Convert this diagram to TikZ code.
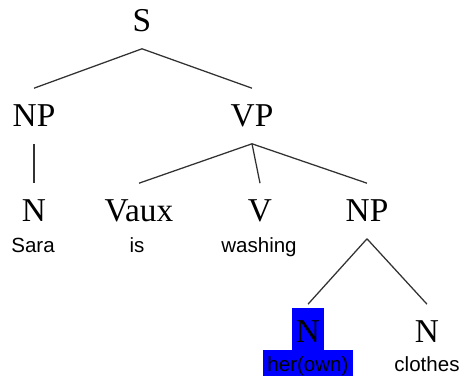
\documentclass[tikz,border=0pt]{standalone}
\usepackage{fontspec}
\setmainfont{Liberation Serif}
\newfontfamily\leaffont{Liberation Sans}
\definecolor{hl}{RGB}{0,0,255}
\definecolor{edgecol}{RGB}{50,50,50}
\pgfdeclarelayer{bg}
\pgfsetlayers{bg,main}
\begin{document}
\begin{tikzpicture}[x=0.75pt,y=-0.75pt,
  lab/.style={font=\fontsize{25pt}{30pt}\selectfont, anchor=base, inner sep=0pt,
              text height=28.9pt, text depth=12.4pt},
  leaf/.style={font=\leaffont\fontsize{15.4pt}{18pt}\selectfont, anchor=base, inner sep=0pt},
  hlleaf/.style={leaf, fill=hl, text height=16.5pt, text depth=3pt, inner xsep=3pt},
  edge/.style={draw=edgecol, line width=0.95pt}]
\useasboundingbox (0,0) rectangle (465,381);
% labels
\node[lab] (S)   at (142,32)  {S};
\node[lab] (NP1) at (34,127)  {NP};
\node[lab] (VP)  at (252,127) {VP};
\node[lab] (N1)  at (34,222)  {N};
\node[lab] (Vx)  at (139,222) {Vaux};
\node[lab] (V)   at (260,222) {V};
\node[lab] (NP2) at (367,222) {NP};
\node[lab] (Nh)  at (308,343) {N};
\node[lab] (Nc)  at (427,343) {N};
% leaves
\node[leaf] (sara)    at (33,253)  {Sara};
\node[leaf] (is)      at (137,253) {is};
\node[leaf] (washing) at (259,253) {washing};
\node[hlleaf] (herown) at (308,372) {her(own)};
\node[leaf] (clothes) at (427,372) {clothes};
% highlight behind N
\begin{pgfonlayer}{bg}
\fill[hl] ([shift={(-16,-35)}]Nh.base) rectangle ([shift={(16,7)}]Nh.base);
\end{pgfonlayer}
% connectors
\draw[edge] (S.south) -- (NP1.north);
\draw[edge] (S.south) -- (VP.north);
\draw[edge] (NP1.south) -- (N1.north);
\draw[edge] (VP.south) -- (Vx.north);
\draw[edge] (VP.south) -- (V.north);
\draw[edge] (VP.south) -- (NP2.north);
\draw[edge] (NP2.south) -- (Nh.north);
\draw[edge] (NP2.south) -- (Nc.north);
\end{tikzpicture}
\end{document}
